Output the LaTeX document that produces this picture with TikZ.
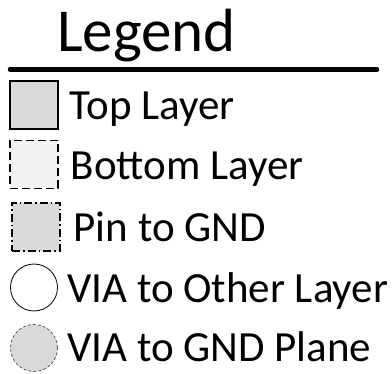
\documentclass[tikz,border=0pt]{standalone}
\usepackage{fontspec}
\setmainfont{Carlito}
\definecolor{padgray}{HTML}{D9D9D9}
\definecolor{botgray}{HTML}{F2F2F2}
\tikzset{
	padbox/.style={rectangle, minimum size=48pt, inner sep=0pt, line width=1.6pt},
	viadot/.style={circle, minimum size=47pt, inner sep=0pt},
	label/.style={anchor=base west, inner sep=0pt, font=\fontsize{43}{50}\selectfont}
}
\begin{document}
\begin{tikzpicture}[x=1pt, y=-1pt]
	\useasboundingbox (0,0) rectangle (392,374);

	\node[anchor=base west, inner sep=0pt, font=\fontsize{61}{70}\selectfont](title) at (57,51.7){Legend};
	\coordinate (rulestart) at (10,69.5);
	\coordinate (ruleend) at (377,69.5);
	\draw [line width=4.5pt, line cap=round] (rulestart) -- (ruleend);

	\node[padbox, fill=padgray, draw=black](top) at (34,105){};
	\node[padbox, fill=botgray, draw=black, line width=1.9pt, dash pattern=on 8pt off 4pt](bottom) at (34,164.5){};
	\node[padbox, fill=padgray, draw=black, line width=1.9pt, dash pattern=on 8pt off 3pt on 1.5pt off 3pt](pin) at (36,227){};
	\node[viadot, fill=white, draw=black, line width=0.8pt](via) at (34,287.5){};
	\node[viadot, fill=padgray, draw=black!70, line width=0.7pt, dash pattern=on 3pt off 2pt](gndvia) at (34,348){};

	\node[label](toptext) at (69,120){Top Layer};
	\node[label](bottomtext) at (70.5,180){Bottom Layer};
	\node[label](pintext) at (73.5,241.7){Pin to GND};
	\node[label](viatext) at (67,303){VIA to Other Layer};
	\node[label](gndviatext) at (67,361.7){VIA to GND Plane};

\end{tikzpicture}
\end{document}
